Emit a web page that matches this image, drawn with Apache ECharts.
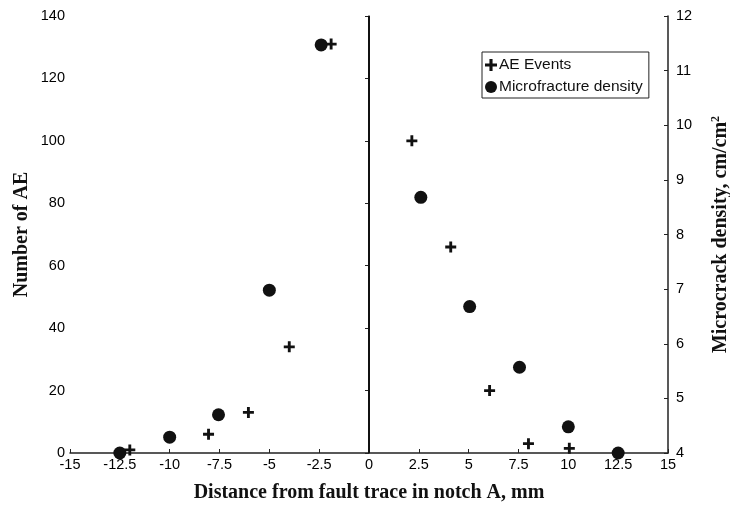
<!DOCTYPE html>
<html>
<head>
<meta charset="utf-8">
<script src="https://cdn.jsdelivr.net/npm/echarts@6/dist/echarts.min.js"></script>
<style>
  html, body { margin: 0; padding: 0; background: #fff; }
  #main { width: 730px; height: 506px; }
</style>
</head>
<body>
<div id="main"></div>
<script>
  // AE events (left axis)
  let aeX = [-12, -8.05, -6.05, -4, -1.9, 2.15, 4.1, 6.05, 8, 10.05];
  let aeY = [1, 6, 13, 34, 131, 100, 66, 20, 3, 1.5];
  // microfracture density (right axis)
  let mfX = [-12.5, -10, -7.55, -5, -2.4, 2.6, 5.05, 7.55, 10, 12.5];
  let mfY = [4.0, 4.29, 4.7, 6.98, 11.47, 8.68, 6.68, 5.57, 4.48, 4.0];

  let plusPath = 'path://M3.7,0H6.3V3.7H10V6.3H6.3V10H3.7V6.3H0V3.7H3.7Z';
  let sans = 'Liberation Sans';
  let serif = 'Liberation Serif';

  let myChart = echarts.init(document.getElementById('main'));

  let pair = function (xs, ys) {
    return xs.map(function (v, i) { return [v, ys[i]]; });
  };

  let titleStyle = { fontFamily: serif, fontWeight: 'bold', fontSize: 20, color: '#111' };

  let option = {
    animation: false,
    backgroundColor: '#fff',
    grid: { left: 70, right: 62, top: 16, bottom: 53, outerBoundsMode: 'none' },
    legend: {
      orient: 'vertical',
      left: 482,
      top: 52,
      itemWidth: 12,
      itemHeight: 12,
      itemGap: 6,
      padding: [5, 6, 3, 3],
      borderColor: '#222',
      borderWidth: 1,
      textStyle: { fontFamily: sans, fontSize: 15.5, color: '#111', padding: [0, 0, 0, -3] },
      data: [
        { name: 'AE Events', icon: plusPath },
        { name: 'Microfracture density', icon: 'circle' }
      ]
    },
    xAxis: {
      type: 'value',
      min: -15, max: 15, interval: 2.5,
      name: 'Distance from fault trace in notch A, mm',
      nameLocation: 'middle',
      nameGap: 30,
      nameMoveOverlap: false,
      nameTextStyle: titleStyle,
      axisLine: { onZero: false, lineStyle: { color: '#222', width: 1.5 } },
      axisTick: { inside: true, length: 4, lineStyle: { color: '#222' } },
      axisLabel: { fontFamily: sans, fontSize: 14.5, color: '#000', margin: 4 },
      splitLine: { show: false }
    },
    yAxis: [
      {
        type: 'value',
        position: 'left',
        min: 0, max: 140, interval: 20,
        name: 'Number of AE',
        nameLocation: 'middle',
        nameGap: 38,
        nameMoveOverlap: false,
        nameTextStyle: titleStyle,
        axisLine: { show: true, lineStyle: { color: '#222', width: 1.5 } },
        axisTick: { show: true, length: 4, lineStyle: { color: '#222' } },
        axisLabel: { fontFamily: sans, fontSize: 14.5, color: '#000', margin: 5 },
        splitLine: { show: false }
      },
      {
        type: 'value',
        position: 'right',
        min: 4, max: 12, interval: 1,
        name: '{a|Microcrack density, cm/cm}{s|2}',
        nameLocation: 'middle',
        nameGap: 42,
        nameRotate: 90,
        nameTextStyle: {
          fontFamily: serif, fontWeight: 'bold', fontSize: 20, color: '#111',
          rich: {
            a: { fontFamily: serif, fontWeight: 'bold', fontSize: 20, color: '#111' },
            s: { fontFamily: serif, fontWeight: 'bold', fontSize: 12, color: '#111', verticalAlign: 'top', padding: [0, 0, 10, 0] }
          }
        },
        axisLine: { show: true, lineStyle: { color: '#222', width: 1.5 } },
        axisTick: { show: true, inside: true, length: 4, lineStyle: { color: '#222' } },
        axisLabel: { fontFamily: sans, fontSize: 14.5, color: '#000', margin: 8 },
        splitLine: { show: false }
      }
    ],
    series: [
      {
        name: 'AE Events',
        type: 'scatter',
        yAxisIndex: 0,
        symbol: plusPath,
        symbolSize: 11,
        itemStyle: { color: '#111', opacity: 1 },
        data: pair(aeX, aeY),
        markLine: {
          silent: true,
          symbol: 'none',
          label: { show: false },
          lineStyle: { color: '#111', width: 2, type: 'solid' },
          data: [{ xAxis: 0 }]
        }
      },
      {
        name: 'Microfracture density',
        type: 'scatter',
        yAxisIndex: 1,
        symbol: 'circle',
        symbolSize: 13,
        itemStyle: { color: '#111', opacity: 1 },
        data: pair(mfX, mfY)
      }
    ]
  };

  myChart.setOption(option);
</script>
</body>
</html>
